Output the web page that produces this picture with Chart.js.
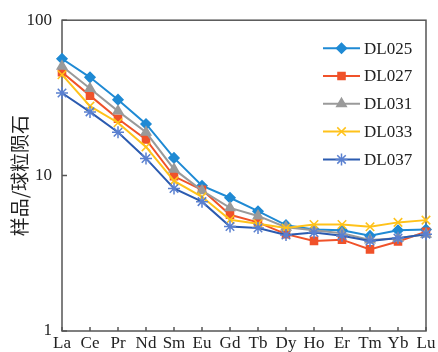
<!DOCTYPE html>
<html>
<head>
<meta charset="utf-8">
<script src="https://cdn.jsdelivr.net/npm/chart.js@4/dist/chart.umd.min.js"></script>
<style>
  html, body { margin: 0; padding: 0; background: #fff; }
  #wrap { width: 438px; height: 352px; }
</style>
</head>
<body>
<div id="wrap"><canvas id="reeChart" width="438" height="352"></canvas></div>
<script>
// Chondrite-normalised REE pattern
const elements = ['La', 'Ce', 'Pr', 'Nd', 'Sm', 'Eu', 'Gd', 'Tb', 'Dy', 'Ho', 'Er', 'Tm', 'Yb', 'Lu'];
const yTickValues = [1, 10, 100];
const sampleNames = ['DL025', 'DL027', 'DL031', 'DL033', 'DL037'];

const dl025 = [56.5, 42.9, 30.8, 21.5, 13.0, 8.6, 7.2, 5.9, 4.8, 4.5, 4.45, 4.1, 4.45, 4.5];
const dl027 = [46.2, 32.7, 23.2, 17.1, 9.9, 8.1, 5.6, 5.0, 4.2, 3.8, 3.87, 3.35, 3.77, 4.35];
const dl031 = [50.5, 36.3, 26.0, 19.0, 11.0, 8.0, 6.2, 5.5, 4.65, 4.45, 4.25, 3.85, 3.95, 4.2];
const dl033 = [44.6, 28.0, 21.9, 15.3, 9.25, 7.3, 5.2, 4.9, 4.6, 4.85, 4.85, 4.68, 5.0, 5.17];
const dl037 = [34.0, 25.7, 19.0, 12.9, 8.26, 6.8, 4.7, 4.6, 4.15, 4.3, 4.1, 3.8, 3.96, 4.2];

const seriesValues = [dl025, dl027, dl031, dl033, dl037];
const seriesColors = ['#1f8ad4', '#f0522a', '#9a9a9a', '#ffc21a', '#2b5bb0'];
const markerColors = ['#1f8ad4', '#f0522a', '#9a9a9a', '#ffc21a', '#5a80d0'];
const markerStyles = ['rectRot', 'rect', 'triangle', 'crossRot', 'star'];
const markerSizes = [5, 5, 5.5, 6, 6];

const serif = 'Liberation Serif, Times New Roman, serif';

/**
 * Axis frame and inward tick marks
 */
const framePlugin = {
    id: 'frame',
    beforeDatasetsDraw(chart) {
        const { ctx, chartArea: a, scales } = chart;
        ctx.save();
        ctx.strokeStyle = '#555';
        ctx.lineWidth = 1.5;
        ctx.strokeRect(a.left, a.top, a.right - a.left, a.bottom - a.top);
        ctx.beginPath();
        elements.forEach((el, i) => {
            const x = scales.x.getPixelForValue(i);
            ctx.moveTo(x, a.bottom);
            ctx.lineTo(x, a.bottom - 4);
        });
        yTickValues.forEach(v => {
            const y = scales.y.getPixelForValue(v);
            ctx.moveTo(a.left, y);
            ctx.lineTo(a.left + 5, y);
        });
        ctx.stroke();
        ctx.restore();
    }
};

/**
 * Legend drawn inside the plot, line + marker + name
 */
const legendPlugin = {
    id: 'innerLegend',
    afterDraw(chart) {
        const { ctx, chartArea: a } = chart;
        const x0 = a.right - 103;
        const x1 = a.right - 66;
        ctx.save();
        chart.data.datasets.forEach((ds, i) => {
            const y = a.top + 28 + i * 27.8;
            ctx.strokeStyle = ds.borderColor;
            ctx.lineWidth = 2;
            ctx.beginPath();
            ctx.moveTo(x0, y);
            ctx.lineTo(x1, y);
            ctx.stroke();
            ctx.fillStyle = ds.pointBackgroundColor;
            ctx.strokeStyle = ds.pointBorderColor;
            ctx.lineWidth = 1.5;
            Chart.helpers.drawPoint(ctx, {
                pointStyle: ds.pointStyle,
                radius: ds.pointRadius,
                rotation: 0,
                borderWidth: 1.5
            }, (x0 + x1) / 2, y);
            ctx.fillStyle = '#222';
            ctx.font = '17px ' + serif;
            ctx.textBaseline = 'middle';
            ctx.fillText(ds.label, x1 + 4, y + 1);
        });
        ctx.restore();
    }
};

const datasets = sampleNames.map((name, i) => ({
    label: name,
    data: seriesValues[i],
    borderColor: seriesColors[i],
    borderWidth: 2,
    backgroundColor: markerColors[i],
    pointBackgroundColor: markerColors[i],
    pointBorderColor: markerColors[i],
    pointBorderWidth: 1.5,
    pointStyle: markerStyles[i],
    pointRadius: markerSizes[i],
    tension: 0,
    fill: false,
    order: sampleNames.length - i
}));

new Chart(document.getElementById('reeChart'), {
    type: 'line',
    data: {
        labels: elements,
        datasets: datasets
    },
    options: {
        responsive: false,
        animation: false,
        layout: {
            padding: { left: 0, right: 12, top: 14, bottom: 0 }
        },
        plugins: {
            legend: { display: false },
            tooltip: { enabled: false }
        },
        scales: {
            x: {
                type: 'category',
                offset: false,
                grid: { display: false, drawTicks: false },
                border: { display: false },
                ticks: {
                    color: '#222',
                    font: { family: serif, size: 17 },
                    padding: 2,
                    maxRotation: 0,
                    autoSkip: false
                },
                afterFit(scale) { scale.height = 21; }
            },
            y: {
                type: 'logarithmic',
                min: 1,
                max: 100,
                grid: { display: false, drawTicks: false },
                border: { display: false },
                afterBuildTicks(scale) {
                    scale.ticks = yTickValues.map(v => ({ value: v }));
                },
                ticks: {
                    color: '#222',
                    font: { family: serif, size: 17 },
                    padding: 10,
                    callback: v => String(v)
                },
                title: {
                    display: true,
                    text: '样品/球粒陨石',
                    color: '#222',
                    font: { family: 'Noto Sans CJK SC', size: 19 },
                    padding: { top: 8, bottom: 0 }
                },
                afterFit(scale) { scale.width = 62; }
            }
        }
    },
    plugins: [framePlugin, legendPlugin]
});
</script>
</body>
</html>
